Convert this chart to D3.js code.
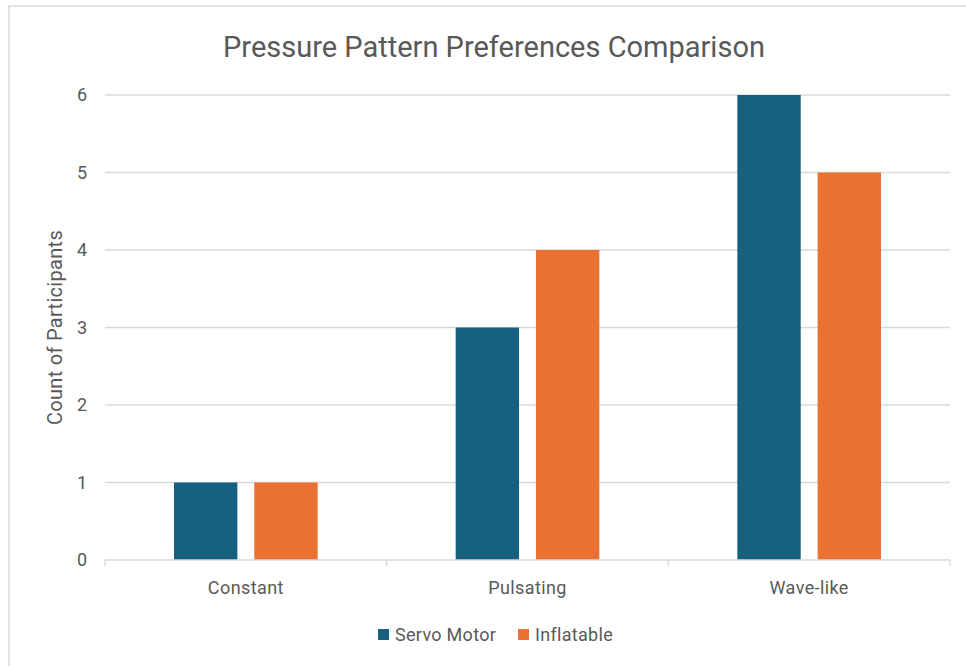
<!DOCTYPE html>
<html>
<head>
<meta charset="utf-8">
<script src="https://cdn.jsdelivr.net/npm/d3@7"></script>
<style>
  html, body { margin: 0; padding: 0; background: #fff; }
  svg { display: block; }
  text { font-family: Roboto, "Open Sans", sans-serif; fill: #595959; }
</style>
</head>
<body>
<svg id="chart" width="966" height="666"></svg>
<script>
// Preferred pressure patterns, counted per actuator type
const categories = ["Constant", "Pulsating", "Wave-like"];
const seriesNames = ["Servo Motor", "Inflatable"];
const servoMotor = [1, 3, 6];
const inflatable = [1, 4, 5];
const yTicks = [0, 1, 2, 3, 4, 5, 6];
const colors = ["#17607f", "#e97232"];

const W = 966, H = 666;
const margin = { left: 105, right: 16, top: 95, bottom: 106 };
const svg = d3.select("#chart");

// card border
svg.append("path")
  .attr("d", `M9,${H} V6 H${W}`)
  .attr("fill", "none")
  .attr("stroke", "#d9d9d9")
  .attr("stroke-width", 1.5);

const x0 = d3.scaleBand().domain(categories)
  .range([margin.left, W - margin.right]).paddingInner(0).paddingOuter(0);
const y = d3.scaleLinear().domain([0, 6]).range([H - margin.bottom, margin.top]);

// gridlines
svg.append("g").selectAll("line").data(yTicks.filter(d => d > 0)).join("line")
  .attr("x1", margin.left).attr("x2", W - margin.right)
  .attr("y1", d => y(d)).attr("y2", d => y(d))
  .attr("stroke", "#d9d9d9").attr("stroke-width", 1.3);

// y tick labels
svg.append("g").selectAll("text").data(yTicks).join("text")
  .attr("x", 87).attr("y", d => y(d)).attr("dy", "0.36em")
  .attr("text-anchor", "end").attr("font-size", 18)
  .text(d => d);

// bars
const groupW = x0.bandwidth();
const barW = groupW * 0.225;
const gap = groupW * 0.06;
const series = [servoMotor, inflatable];
series.forEach((vals, si) => {
  svg.append("g").selectAll("rect").data(vals).join("rect")
    .attr("x", (d, i) => x0(categories[i]) + groupW / 2 - barW - gap / 2 + si * (barW + gap))
    .attr("width", barW)
    .attr("y", d => y(d))
    .attr("height", d => y(0) - y(d))
    .attr("fill", colors[si]);
});

// x axis
const base = y(0);
svg.append("line").attr("x1", margin.left).attr("x2", W - margin.right)
  .attr("y1", base).attr("y2", base).attr("stroke", "#d9d9d9").attr("stroke-width", 1.3);
const boundaries = categories.map(c => x0(c)).concat([W - margin.right]);
svg.append("g").selectAll("line").data(boundaries).join("line")
  .attr("x1", d => d).attr("x2", d => d)
  .attr("y1", base).attr("y2", base + 6)
  .attr("stroke", "#d9d9d9").attr("stroke-width", 1.3);
svg.append("g").selectAll("text").data(categories).join("text")
  .attr("x", d => x0(d) + groupW / 2).attr("y", base + 34)
  .attr("text-anchor", "middle").attr("font-size", 18)
  .attr("letter-spacing", 0.4)
  .text(d => d);

// y axis title
svg.append("text")
  .attr("transform", `translate(62,${(y(0) + y(6)) / 2}) rotate(-90)`)
  .attr("text-anchor", "middle").attr("font-size", 20)
  .attr("letter-spacing", 0.3)
  .text("Count of Participants");

// title
svg.append("text")
  .attr("x", 494).attr("y", 57)
  .attr("text-anchor", "middle").attr("font-size", 29)
  .text("Pressure Pattern Preferences Comparison");

// legend
const legend = svg.append("g");
const legendItems = [{ name: seriesNames[0], x: 378 }, { name: seriesNames[1], x: 518 }];
legendItems.forEach((it, i) => {
  legend.append("rect").attr("x", it.x).attr("y", 629).attr("width", 11).attr("height", 11)
    .attr("fill", colors[i]);
  legend.append("text").attr("x", it.x + 17).attr("y", 635).attr("dy", "0.36em")
    .attr("font-size", 18).attr("letter-spacing", 0.3).text(it.name);
});
</script>
</body>
</html>
